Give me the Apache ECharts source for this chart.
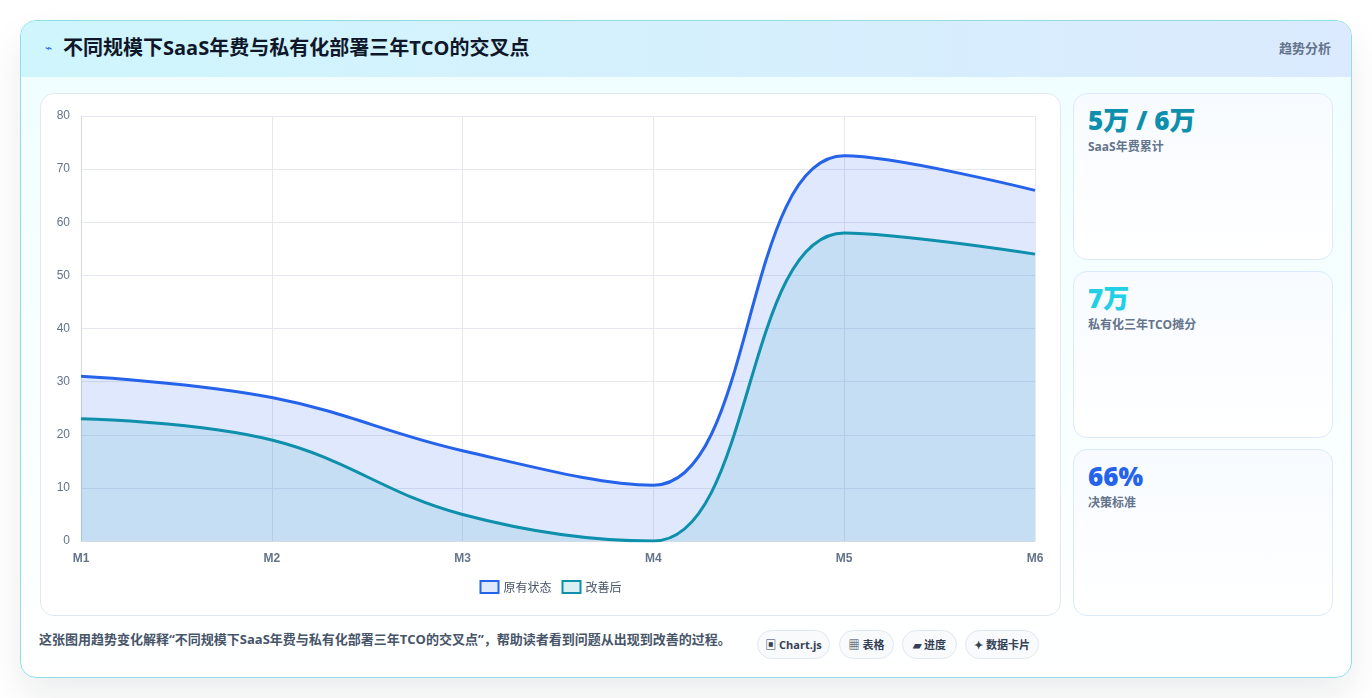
<!DOCTYPE html>
<html>
<head>
<meta charset="utf-8">
<script src="https://cdn.jsdelivr.net/npm/echarts@6/dist/echarts.min.js"></script>
<style>
*{box-sizing:border-box;margin:0;padding:0}
body{width:1372px;height:698px;background:#fff;font-family:"Open Sans","Noto Sans CJK SC",sans-serif;position:relative;overflow:hidden}
.card{position:absolute;left:20px;top:20px;width:1332px;height:658px;border:1px solid #8fdfe8;border-radius:16px;
 background:linear-gradient(180deg,#effeff 0%,#ffffff 100%);box-shadow:0 18px 36px rgba(15,23,42,0.08);overflow:hidden}
.head{position:absolute;left:0;top:0;width:100%;height:56px;background:linear-gradient(90deg,#cff6fc 0%,#dbeafe 100%)}
.head .ico{position:absolute;left:24px;top:18px;font-size:12px;color:#2563eb}
.head .title{position:absolute;left:42px;top:14px;font-size:20px;font-weight:700;color:#0f172a;line-height:26px}
.head .tag{position:absolute;right:20px;top:18px;font-size:13px;font-weight:700;color:#64748b;line-height:18px}
.panel{position:absolute;left:19px;top:72px;width:1021px;height:523px;background:#fff;border:1px solid #e2e8f0;border-radius:14px}
#chart{position:absolute;left:0;top:0;width:1019px;height:521px}
.stat{position:absolute;left:1052px;width:260px;height:167px;border:1px solid #dbeafe;border-radius:14px;
 background:linear-gradient(180deg,#f7fbff 0%,#ffffff 100%)}
.stat .v{position:absolute;left:14px;top:9px;font-size:26px;font-weight:800;line-height:34px}
.stat .l{position:absolute;left:14px;top:44px;font-size:12px;font-weight:700;color:#64748b;line-height:17px}
.note{position:absolute;left:18px;top:609px;font-size:13px;font-weight:700;color:#475569;line-height:19px}
.pill{position:absolute;top:609px;height:29px;border:1px solid #e2e8f0;border-radius:15px;background:#f8fafc;
 font-size:11px;font-weight:700;color:#334155;line-height:27px;text-align:center}
</style>
</head>
<body>
<div class="card">
  <div class="head">
    <span class="ico">⌁</span>
    <div class="title">不同规模下SaaS年费与私有化部署三年TCO的交叉点</div>
    <div class="tag">趋势分析</div>
  </div>
  <div class="panel"><div id="chart"></div></div>
  <div class="stat" style="top:72px"><div class="v" style="color:#0e8fac">5万 / 6万</div><div class="l">SaaS年费累计</div></div>
  <div class="stat" style="top:250px"><div class="v" style="color:#22cfe6">7万</div><div class="l">私有化三年TCO摊分</div></div>
  <div class="stat" style="top:428px"><div class="v" style="color:#2563eb">66%</div><div class="l">决策标准</div></div>
  <div class="note">这张图用趋势变化解释“不同规模下SaaS年费与私有化部署三年TCO的交叉点”，帮助读者看到问题从出现到改善的过程。</div>
  <div class="pill" style="left:736px;width:73px">▣ Chart.js</div>
  <div class="pill" style="left:818px;width:55px">▦ 表格</div>
  <div class="pill" style="left:881px;width:55px">▰ 进度</div>
  <div class="pill" style="left:944px;width:74px">✦ 数据卡片</div>
</div>
<script>
// 数据
var months = ["M1", "M2", "M3", "M4", "M5", "M6"];
var beforeVals = [31, 27, 17, 10.5, 72.5, 66];
var afterVals = [23, 19, 5, 0, 58, 54];
var seriesNames = ["原有状态", "改善后"];

var myChart = echarts.init(document.getElementById('chart'));
var option = {
    animation: false,
    textStyle: { fontFamily: '"Liberation Sans","Noto Sans CJK SC",sans-serif' },
    grid: { left: 40, right: 25, top: 22, bottom: 74 },
    legend: {
        data: seriesNames,
        bottom: 16,
        left: 'center',
        itemWidth: 18,
        itemHeight: 12,
        itemGap: 10,
        icon: 'rect',
        textStyle: { color: '#475569', fontSize: 12, fontFamily: '"Noto Sans CJK SC",sans-serif' }
    },
    xAxis: {
        type: 'category',
        data: months,
        boundaryGap: false,
        axisLine: { show: true, lineStyle: { color: '#d5dbe3' } },
        axisTick: { show: false },
        splitLine: { show: true, lineStyle: { color: '#e5e9ef' } },
        axisLabel: { color: '#64748b', fontSize: 12, fontWeight: 'bold', margin: 12 }
    },
    yAxis: {
        type: 'value',
        min: 0,
        max: 80,
        interval: 10,
        axisLine: { show: true, lineStyle: { color: '#d5dbe3' } },
        axisTick: { show: false },
        splitLine: { lineStyle: { color: '#e5e9ef' } },
        axisLabel: { color: '#64748b', fontSize: 12, margin: 11 }
    },
    series: [
        {
            name: seriesNames[0],
            type: 'line',
            data: beforeVals,
            smooth: 0.4,
            symbol: 'none',
            lineStyle: { color: '#2563eb', width: 3 },
            itemStyle: { color: 'rgba(37,99,235,0.15)', borderColor: '#2563eb', borderWidth: 2 },
            areaStyle: { color: 'rgba(37,99,235,0.15)', opacity: 1 }
        },
        {
            name: seriesNames[1],
            type: 'line',
            data: afterVals,
            smooth: 0.4,
            symbol: 'none',
            lineStyle: { color: '#0e8fac', width: 3 },
            itemStyle: { color: 'rgba(8,145,178,0.15)', borderColor: '#0e8fac', borderWidth: 2 },
            areaStyle: { color: 'rgba(8,145,178,0.12)', opacity: 1 }
        }
    ]
};
myChart.setOption(option);
</script>
</body>
</html>
